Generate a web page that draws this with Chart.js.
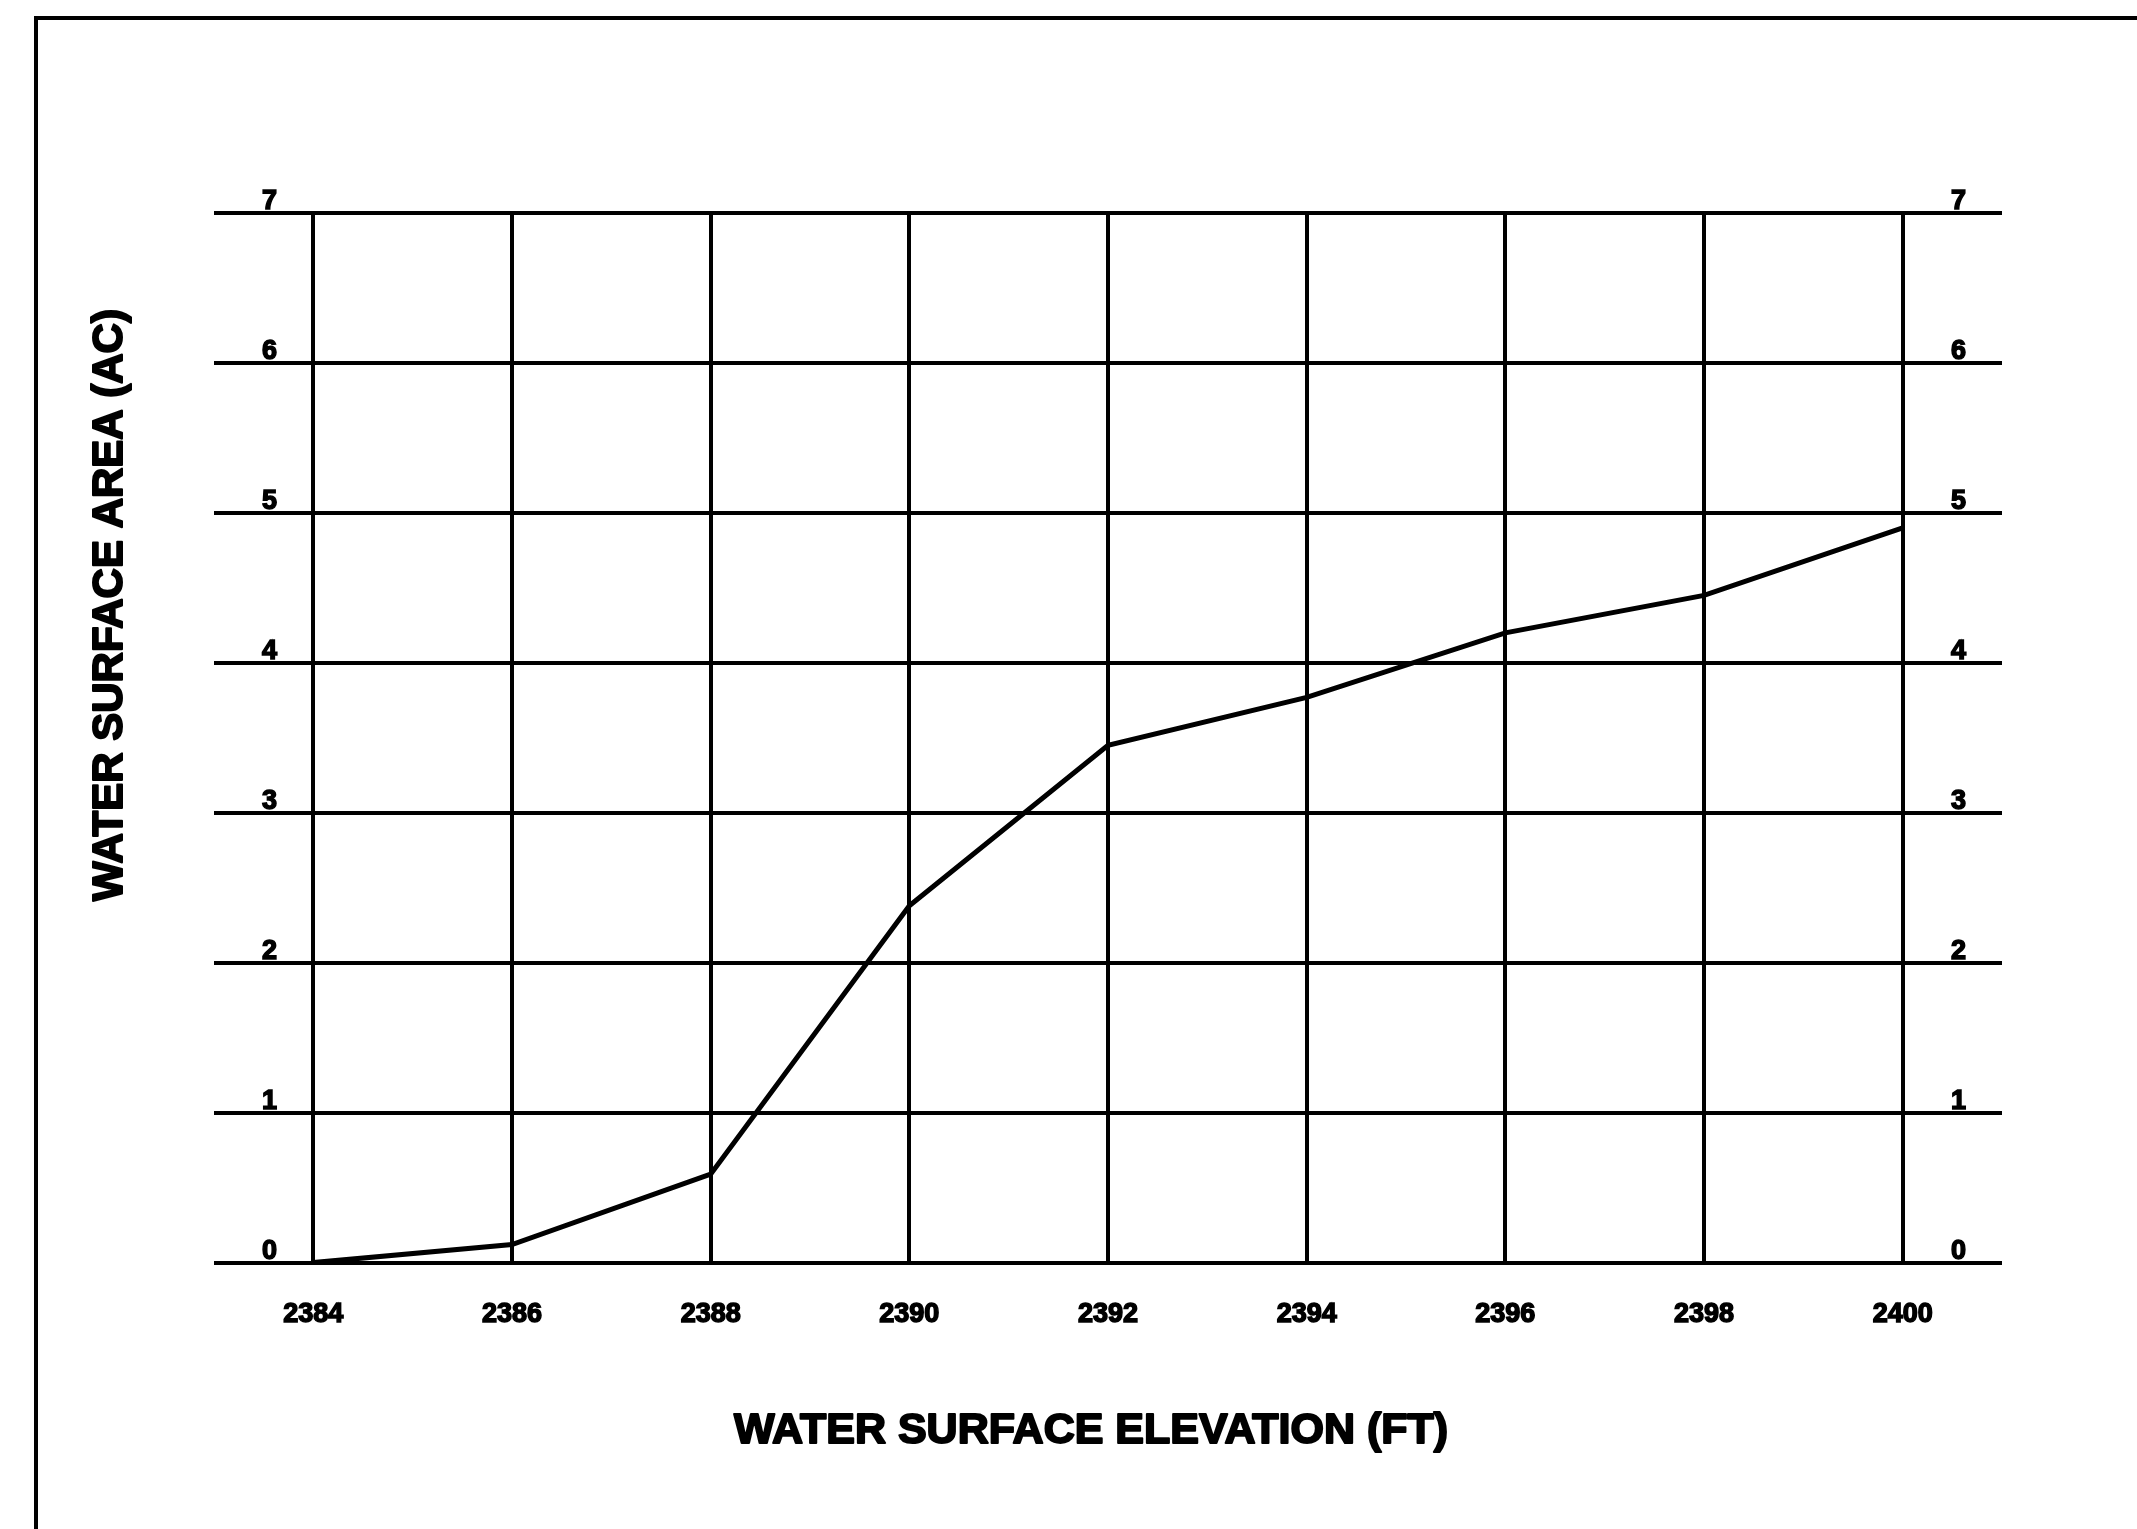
<!DOCTYPE html>
<html>
<head>
<meta charset="utf-8">
<script src="https://cdn.jsdelivr.net/npm/chart.js@4"></script>
<style>
    html, body { margin: 0; padding: 0; background: #fff; overflow: hidden; }
    #wrap { position: relative; width: 2137px; height: 1529px; }
    #areaChart { position: absolute; left: 0; top: 0; }
    #frame {
        position: absolute; left: 34px; top: 16px; right: -10px; bottom: -10px;
        border-left: 4px solid #000; border-top: 4px solid #000;
        pointer-events: none;
    }
</style>
</head>
<body>
<div id="wrap">
    <canvas id="areaChart" width="2137" height="1529"></canvas>
    <div id="frame"></div>
</div>
<script>
// Elevation (ft) vs water surface area (ac)
var elevations = [2384, 2386, 2388, 2390, 2392, 2394, 2396, 2398, 2400];
var areas = [0, 0.12, 0.59, 2.38, 3.45, 3.77, 4.20, 4.45, 4.90];
var xTicks = [2384, 2386, 2388, 2390, 2392, 2394, 2396, 2398, 2400];
var yTicks = [0, 1, 2, 3, 4, 5, 6, 7];
var xTitle = 'WATER SURFACE ELEVATION (FT)';
var yTitle = 'WATER SURFACE AREA (AC)';

var labelFont = { family: "'Liberation Sans', Arial, sans-serif", size: 27, weight: 'bold' };

function fixedTicks(values) {
    return function (scale) {
        scale.ticks = values.map(function (v) { return { value: v }; });
    };
}

function plain(value) {
    return String(value);
}

// axis titles drawn at their place on the sheet
var axisTitles = {
    id: 'axisTitles',
    afterDraw: function (chart) {
        var c = chart.ctx;
        c.save();
        c.fillStyle = '#000';
        c.strokeStyle = '#000';
        c.lineWidth = 2;
        c.lineJoin = 'round';
        c.textAlign = 'center';
        c.textBaseline = 'middle';
        c.font = "bold 43px 'Liberation Sans', Arial, sans-serif";
        c.strokeText(xTitle, 1091, 1431);
        c.fillText(xTitle, 1091, 1431);
        c.translate(110, 605);
        c.rotate(-Math.PI / 2);
        c.font = "bold 42px 'Liberation Sans', Arial, sans-serif";
        c.strokeText(yTitle, 0, 0);
        c.fillText(yTitle, 0, 0);
        c.restore();
    }
};

var tickStyle = { color: '#000', font: labelFont, textStrokeColor: '#000', textStrokeWidth: 1.5, callback: plain };

var ctx = document.getElementById('areaChart').getContext('2d');
new Chart(ctx, {
    type: 'line',
    data: {
        datasets: [{
            data: elevations.map(function (e, i) { return { x: e, y: areas[i] }; }),
            borderColor: '#000',
            borderWidth: 5,
            pointRadius: 0,
            tension: 0,
            fill: false
        }]
    },
    options: {
        responsive: false,
        animation: false,
        layout: { padding: { left: 118, right: 135, top: 213, bottom: 162 } },
        plugins: { legend: { display: false }, tooltip: { enabled: false } },
        scales: {
            x: {
                type: 'linear',
                min: 2383,
                max: 2401,
                afterBuildTicks: fixedTicks(xTicks),
                border: { display: false },
                grid: { color: '#000', lineWidth: 4, drawTicks: false },
                ticks: Object.assign({ padding: 36, maxRotation: 0, autoSkip: false }, tickStyle)
            },
            y: {
                position: 'left',
                min: 0,
                max: 7,
                afterBuildTicks: fixedTicks(yTicks),
                border: { display: false },
                grid: { color: '#000', lineWidth: 4, drawTicks: false },
                ticks: Object.assign({ mirror: true, crossAlign: 'center', padding: 48, labelOffset: -11 }, tickStyle)
            },
            y2: {
                position: 'right',
                min: 0,
                max: 7,
                afterBuildTicks: fixedTicks(yTicks),
                afterFit: function (scale) { scale.width = 0; },
                border: { display: false },
                grid: { display: false, drawTicks: false },
                ticks: Object.assign({ mirror: true, crossAlign: 'center', padding: -36, labelOffset: -11 }, tickStyle)
            }
        }
    },
    plugins: [axisTitles]
});
</script>
</body>
</html>
